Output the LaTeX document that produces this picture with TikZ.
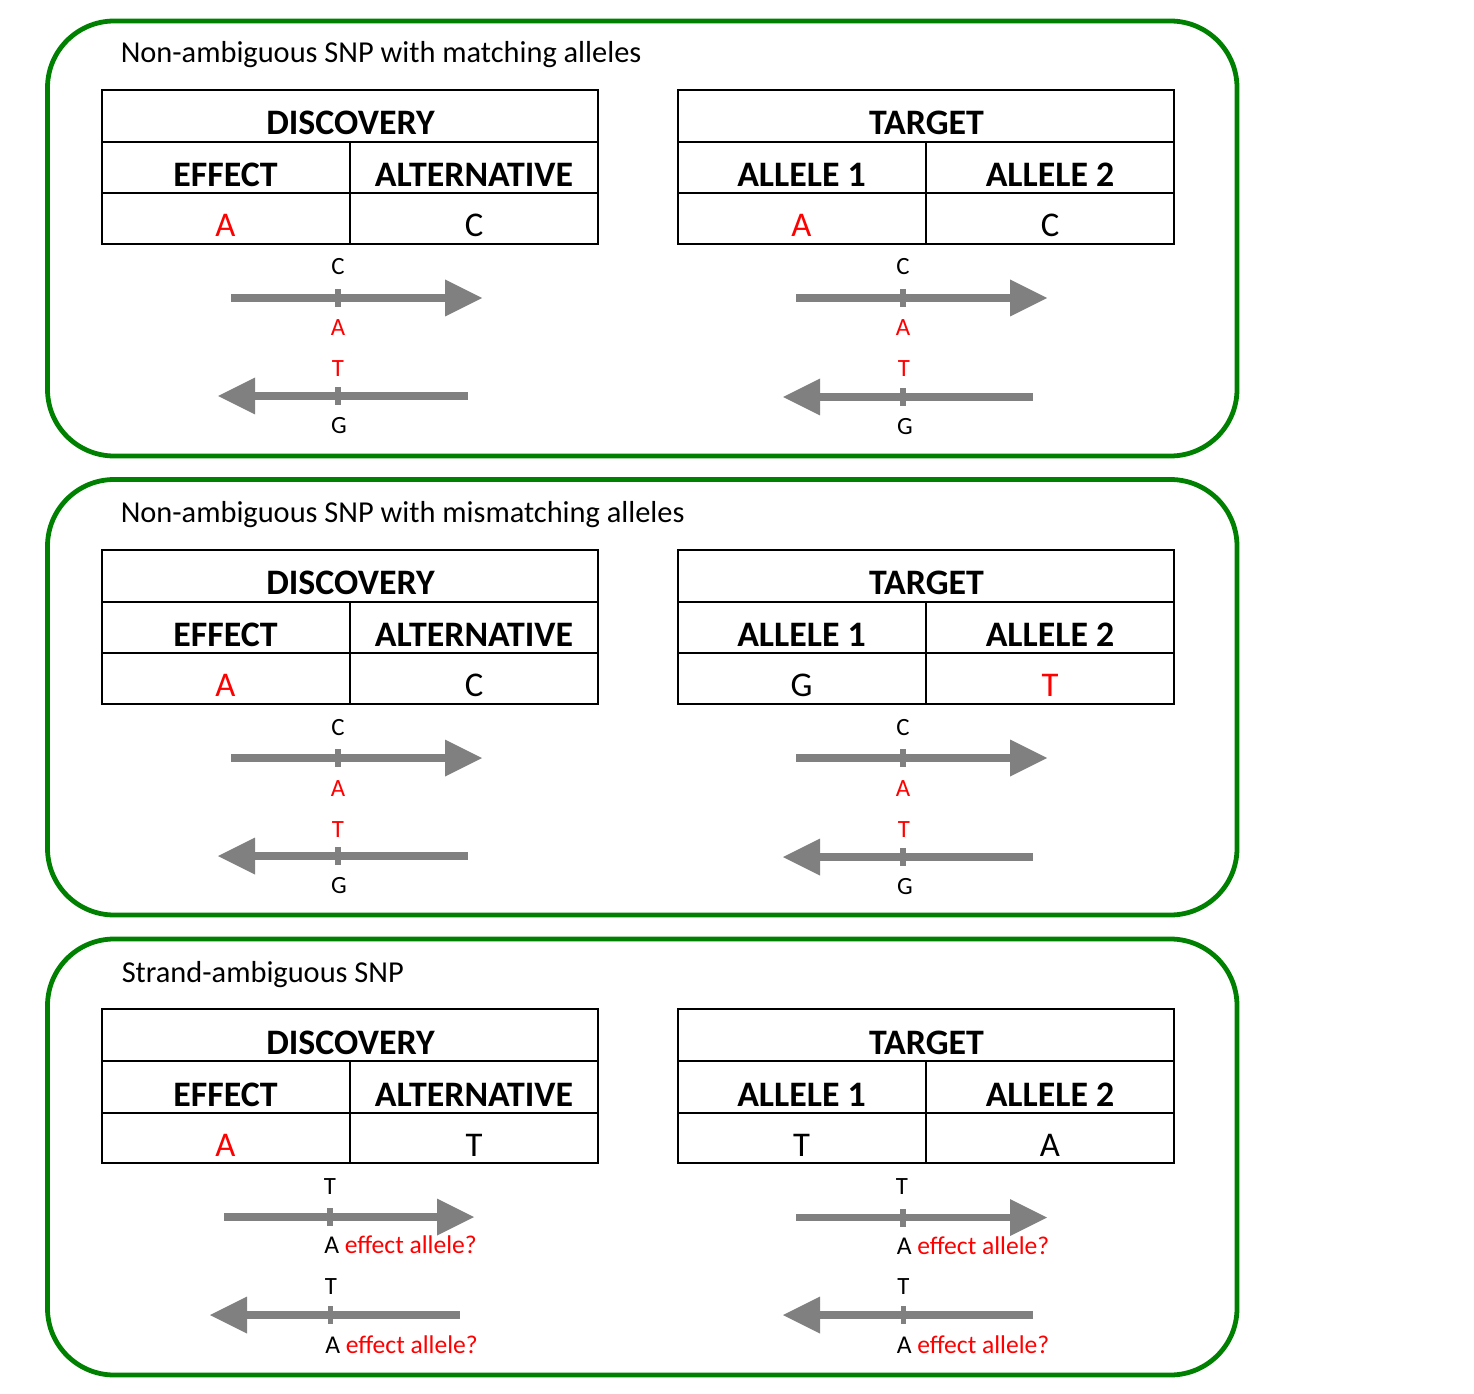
\documentclass[tikz,border=0pt]{standalone}
\usepackage{fontspec}
\setmainfont{Carlito}
\definecolor{panelgreen}{RGB}{0,128,0}
\definecolor{strandgray}{RGB}{128,128,128}
\definecolor{allelered}{RGB}{255,0,0}
\tikzset{
  panel/.style={draw=panelgreen, line width=3.6pt, rounded corners=50pt},
  tablebox/.style={draw=black, line width=1.5pt},
  titletext/.style={anchor=base west, inner sep=0pt, font=\fontsize{22.8}{27}\selectfont},
  headtext/.style={anchor=base, inner sep=0pt, font=\fontsize{26.9}{31}\selectfont\bfseries},
  celltext/.style={anchor=base, inner sep=0pt, font=\fontsize{26}{31}\selectfont},
  basetext/.style={anchor=base, inner sep=0pt, font=\fontsize{18.6}{22}\selectfont},
  basetextw/.style={anchor=base west, inner sep=0pt, font=\fontsize{19.2}{22}\selectfont},
  strand/.style={draw=strandgray, line width=5.4pt},
}
% #1 prefix, #2 x, #3 y, #4 title, #5 head1, #6 head2, #7 val1, #8 val2
\newcommand{\SnpTable}[8]{%
  \draw[tablebox] (#2,#3) rectangle ({#2+496},{#3+154});
  \draw[tablebox] (#2,{#3+52}) -- ({#2+496},{#3+52});
  \draw[tablebox] (#2,{#3+103.5}) -- ({#2+496},{#3+103.5});
  \draw[tablebox] ({#2+248},{#3+52}) -- ({#2+248},{#3+154});
  \node[headtext] (#1-title) at ({#2+249},{#3+45}) {#4};
  \node[headtext] (#1-h1) at ({#2+124},{#3+97}) {#5};
  \node[headtext] (#1-h2) at ({#2+372.5},{#3+97}) {#6};
  \node[celltext] (#1-v1) at ({#2+124},{#3+147}) {#7};
  \node[celltext] (#1-v2) at ({#2+372.5},{#3+147}) {#8};
}
% #1 name, #2 x start, #3 x tip, #4 x tick, #5 y
\newcommand{\FwdStrand}[5]{%
  \coordinate (#1-s) at (#2,#5);
  \coordinate (#1-b) at ({#3-35},#5);
  \coordinate (#1-t) at (#3,#5);
  \draw[strand] (#1-s) -- (#1-b);
  \fill[strandgray] (#1-t) -- ({#3-37},{#5-18.5}) -- ({#3-37},{#5+18.5}) -- cycle;
  \fill[strandgray] ({#4-2.8},{#5-9}) rectangle ({#4+2.8},{#5+9});
}
\newcommand{\RevStrand}[5]{%
  \coordinate (#1-s) at (#2,#5);
  \coordinate (#1-b) at ({#3+35},#5);
  \coordinate (#1-t) at (#3,#5);
  \draw[strand] (#1-s) -- (#1-b);
  \fill[strandgray] (#1-t) -- ({#3+37},{#5-18.5}) -- ({#3+37},{#5+18.5}) -- cycle;
  \fill[strandgray] ({#4-2.8},{#5-9}) rectangle ({#4+2.8},{#5+9});
}
\begin{document}
\begin{tikzpicture}[x=0.75pt,y=-0.75pt]
\useasboundingbox (0,0) rectangle (1474,1394);

% ---------- Panel 1 ----------
\draw[panel] (47.5,21) rectangle (1237,456);
\node[titletext] (t1) at (120.5,63) {Non-ambiguous SNP with matching alleles};
\SnpTable{d1}{101.5}{90}{DISCOVERY}{EFFECT}{ALTERNATIVE}{\textcolor{allelered}{A}}{C}
\SnpTable{g1}{677.5}{90}{TARGET}{ALLELE 1}{ALLELE 2}{\textcolor{allelered}{A}}{C}
\FwdStrand{d1f}{231}{482}{338}{298}
\RevStrand{d1r}{468}{218}{338}{396}
\node[basetext] (d1fa) at (338,275) {C};
\node[basetext, text=allelered] (d1fb) at (338,336) {A};
\node[basetext, text=allelered] (d1ra) at (338,377) {T};
\node[basetext] (d1rb) at (339,433) {G};
\FwdStrand{g1f}{796}{1047}{903}{298}
\RevStrand{g1r}{1033}{783}{903}{397}
\node[basetext] (g1fa) at (903,275) {C};
\node[basetext, text=allelered] (g1fb) at (903,336) {A};
\node[basetext, text=allelered] (g1ra) at (904,377) {T};
\node[basetext] (g1rb) at (905,434) {G};

% ---------- Panel 2 ----------
\draw[panel] (47.5,479.5) rectangle (1237,915);
\node[titletext] (t2) at (120.5,522.5) {Non-ambiguous SNP with mismatching alleles};
\SnpTable{d2}{101.5}{549.5}{DISCOVERY}{EFFECT}{ALTERNATIVE}{\textcolor{allelered}{A}}{C}
\SnpTable{g2}{677.5}{549.5}{TARGET}{ALLELE 1}{ALLELE 2}{G}{\textcolor{allelered}{T}}
\FwdStrand{d2f}{231}{482}{338}{758}
\RevStrand{d2r}{468}{218}{338}{856}
\node[basetext] (d2fa) at (338,735) {C};
\node[basetext, text=allelered] (d2fb) at (338,796) {A};
\node[basetext, text=allelered] (d2ra) at (338,837) {T};
\node[basetext] (d2rb) at (339,893) {G};
\FwdStrand{g2f}{796}{1047}{903}{758}
\RevStrand{g2r}{1033}{783}{903}{857}
\node[basetext] (g2fa) at (903,735) {C};
\node[basetext, text=allelered] (g2fb) at (903,796) {A};
\node[basetext, text=allelered] (g2ra) at (904,837) {T};
\node[basetext] (g2rb) at (905,894) {G};

% ---------- Panel 3 ----------
\draw[panel] (47.5,939) rectangle (1237,1375);
\node[titletext] (t3) at (121.5,982) {Strand-ambiguous SNP};
\SnpTable{d3}{101.5}{1009}{DISCOVERY}{EFFECT}{ALTERNATIVE}{\textcolor{allelered}{A}}{T}
\SnpTable{g3}{677.5}{1009}{TARGET}{ALLELE 1}{ALLELE 2}{T}{A}
\FwdStrand{d3f}{224}{474}{330}{1217}
\RevStrand{d3r}{460}{210}{330.5}{1315}
\node[basetext] (d3fa) at (330,1194) {T};
\node[basetextw] (d3fb) at (324,1253) {A \textcolor{allelered}{effect allele?}};
\node[basetext] (d3ra) at (331,1294) {T};
\node[basetextw] (d3rb) at (325,1353) {A \textcolor{allelered}{effect allele?}};
\FwdStrand{g3f}{796}{1047}{903}{1217.5}
\RevStrand{g3r}{1033}{783}{903.3}{1315}
\node[basetext] (g3fa) at (902,1194) {T};
\node[basetextw] (g3fb) at (896.5,1254) {A \textcolor{allelered}{effect allele?}};
\node[basetext] (g3ra) at (903.5,1294) {T};
\node[basetextw] (g3rb) at (896.5,1353) {A \textcolor{allelered}{effect allele?}};
\end{tikzpicture}
\end{document}
